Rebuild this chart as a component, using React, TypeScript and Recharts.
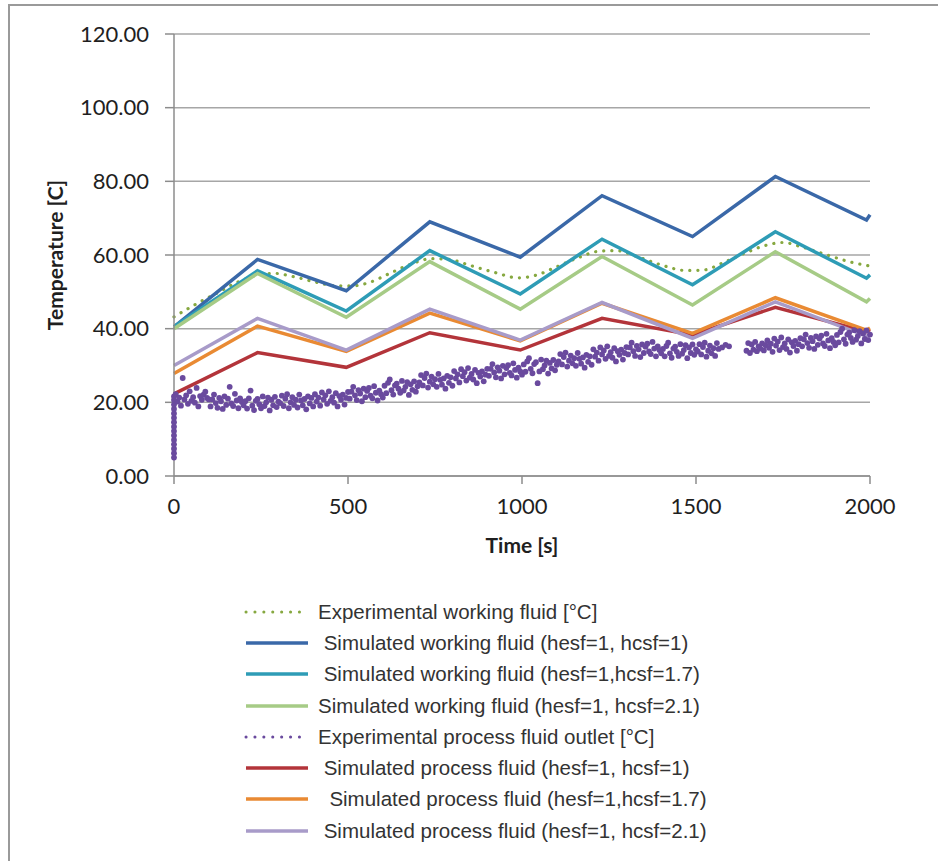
import React from "react";
import { ComposedChart, Line, Scatter, XAxis, YAxis, CartesianGrid } from "recharts";

// simulated runs share the same switching instants
const simTimes = [0, 240, 495, 735, 995, 1230, 1490, 1728, 1990, 2000];
const simWorkH1 = [40.5, 58.8, 50.3, 69.0, 59.4, 76.1, 65.0, 81.3, 69.5, 70.9];
const simWorkH17 = [40.5, 55.7, 44.8, 61.2, 49.4, 64.3, 51.9, 66.3, 53.7, 54.6];
const simWorkH21 = [40.0, 55.0, 43.1, 58.2, 45.3, 59.6, 46.4, 60.9, 47.3, 48.2];
const simProcH1 = [22.3, 33.5, 29.5, 38.9, 34.2, 42.8, 38.3, 45.8, 39.2, 39.8];
const simProcH17 = [27.8, 40.7, 33.8, 44.2, 36.7, 46.9, 38.7, 48.4, 39.6, 40.2];
const simProcH21 = [30.0, 42.8, 34.2, 45.3, 36.9, 47.1, 37.4, 47.3, 38.0, 38.0];

const expWorkTimes = [
  0, 60, 120, 180, 240, 290, 340, 400, 460, 510, 560, 620, 680, 740, 790, 850, 920, 990,
  1040, 1100, 1160, 1220, 1270, 1330, 1400, 1470, 1520, 1580, 1640, 1700, 1750, 1800, 1870, 1940, 2000,
];
const expWorkTemps = [
  43.2, 46.5, 49.5, 52.5, 54.5, 55.0, 54.2, 52.8, 51.7, 51.6, 52.5, 55.0, 57.5, 59.0, 58.8, 57.2, 55.3, 53.8,
  54.5, 56.8, 59.2, 61.0, 61.2, 59.6, 57.3, 55.8, 55.9, 58.0, 60.5, 62.6, 63.4, 62.3, 60.2, 58.2, 57.0,
];

// logger start-up readings at t = 0
const expProcStart = [5.0, 6.2, 7.4, 8.6, 9.8, 11.0, 12.2, 13.4, 14.6, 15.8, 17.0, 18.2, 19.4, 20.6, 21.6];
// process outlet logged every 5 s from t = 5 s (null = no reading)
const expProcStep = 5;
const expProcTemps: (number | null)[] = [
  22.2, 20.2, 21.3, 19.1, 26.6, 20.8, 21.9, 19.6, 23.0, 20.4, 21.4, 19.9, 23.9, 18.9, 21.7, 20.7, 22.1, 22.9, 21.2, 20.8,
  18.9, 20.8, 22.1, 19.8, 18.5, 21.2, 20.3, 18.2, 21.6, 19.3, 21.0, 24.2, 19.7, 19.0, 22.3, 20.5, 18.4, 21.1, 20.1, 19.2,
  20.3, 18.3, 21.1, 23.2, 19.1, 17.9, 20.4, 20.9, 19.5, 18.4, 21.6, 19.0, 20.0, 21.3, 17.8, 20.7, 19.2, 21.5, 18.7, 20.2,
  19.8, 21.8, 19.0, 21.0, 22.2, 18.4, 20.0, 21.4, 19.3, 20.7, 18.6, 22.1, 20.5, 19.2, 20.9, 18.1, 21.6, 19.7, 21.2, 18.9,
  22.2, 20.2, 21.3, 19.1, 22.7, 20.8, 21.9, 19.6, 23.0, 20.4, 21.4, 19.9, 22.5, 18.9, 21.7, 20.7, 22.1, 19.4, 21.2, 22.8,
  21.0, 22.9, 24.2, 21.9, 20.6, 23.3, 22.4, 20.3, 23.7, 21.4, 23.1, 23.9, 21.8, 21.1, 24.4, 22.6, 20.5, 23.2, 22.2, 21.3,
  24.5, 22.5, 25.3, 26.2, 23.3, 22.1, 24.6, 25.1, 23.7, 22.6, 25.8, 23.2, 24.2, 25.5, 22.0, 24.9, 23.4, 25.7, 22.9, 24.4,
  25.4, 27.4, 24.6, 26.6, 27.8, 24.0, 25.6, 27.0, 24.9, 26.3, 24.2, 27.7, 26.1, 24.8, 26.5, 23.7, 27.2, 25.3, 26.8, 24.5,
  28.5, 26.5, 27.6, 25.4, 29.0, 27.1, 28.2, 25.9, 29.3, 26.7, 27.7, 26.2, 28.8, 25.2, 28.0, 27.0, 28.4, 25.7, 27.5, 29.1,
  27.2, 29.1, 30.4, 28.1, 26.8, 29.5, 28.6, 26.5, 29.9, 27.6, 29.3, 30.1, 28.0, 27.3, 30.6, 28.8, 26.7, 29.4, 28.4, 27.5,
  30.3, 28.3, 31.1, 32.0, 29.1, 27.9, 30.4, 30.9, 25.2, 28.4, 31.6, 29.0, 30.0, 31.3, 27.8, 30.7, 29.2, 31.5, 28.7, 30.2,
  31.1, 33.1, 30.3, 32.3, 33.5, 29.7, 31.3, 32.7, 30.6, 32.0, 29.9, 33.4, 31.8, 30.5, 32.2, 29.4, 32.9, 31.0, 32.5, 30.2,
  34.4, 32.4, 33.5, 31.3, 34.9, 33.0, 34.1, 31.8, 35.2, 32.6, 33.6, 32.1, 34.7, 31.1, 33.9, 32.9, 34.3, 31.6, 33.4, 35.0,
  33.0, 34.9, 36.2, 33.9, 32.6, 35.3, 34.4, 32.3, 35.7, 33.4, 35.1, 35.9, 33.8, 33.1, 36.4, 34.6, 32.5, 35.2, 34.2, 33.3,
  34.5, 32.5, 35.3, 36.2, 33.3, 32.1, 34.6, 35.1, 33.7, 32.6, 35.8, 33.2, 34.2, 35.5, 32.0, 34.9, 33.4, 35.7, 32.9, 34.4,
  33.8, 35.8, 33.0, 35.0, 36.2, 32.4, 34.0, 35.4, 33.3, 34.7, 32.6, 36.1, 34.5, null, 34.9, null, 35.6, null, 35.2, null,
  null, null, null, null, null, null, null, null, 34.0, 36.1, 33.4, 35.7, 34.3, 36.4, 33.9, 35.2, 34.6, 36.0, 34.1, 35.5,
  36.8, 34.8, 35.9, 33.7, 37.3, 35.4, 36.5, 34.2, 37.6, 35.0, 36.0, 34.5, 37.1, 33.5, 36.3, 35.3, 36.7, 34.0, 35.8, 37.4,
  35.2, 37.1, 38.4, 36.1, 34.8, 37.5, 36.6, 34.5, 37.9, 35.6, 37.3, 38.1, 36.0, 35.3, 38.6, 36.8, 34.7, 37.4, 36.4, 35.5,
  38.3, 36.3, 39.1, 40.0, 37.1, 35.9, 38.4, 38.9, 37.5, 36.4, 39.6, 37.0, 38.0, 39.3, 36.0, 38.7, 37.2, 39.5, 36.9, 38.4,
];

const xTicks = [0, 500, 1000, 1500, 2000];
const yTicks = [0, 20, 40, 60, 80, 100, 120];

const c = {
  expWork: "#86A840",
  work1: "#3A68A8",
  work17: "#2E9CB6",
  work21: "#A6CB86",
  expProc: "#6A4A9E",
  proc1: "#B3343A",
  proc17: "#E98A33",
  proc21: "#A89BC9",
  grid: "#A6A6A6",
  axis: "#8C8C8C",
  text: "#1f1f1f",
};

const legendItems = [
  { name: "Experimental working fluid [\u00b0C]", color: c.expWork, dotted: true },
  { name: " Simulated working fluid (hesf=1, hcsf=1)", color: c.work1 },
  { name: " Simulated working fluid (hesf=1,hcsf=1.7)", color: c.work17 },
  { name: "Simulated working fluid (hesf=1, hcsf=2.1)", color: c.work21 },
  { name: "Experimental process fluid outlet [\u00b0C]", color: c.expProc, dotted: true },
  { name: " Simulated process fluid (hesf=1, hcsf=1)", color: c.proc1 },
  { name: "  Simulated process fluid (hesf=1,hcsf=1.7)", color: c.proc17 },
  { name: " Simulated process fluid (hesf=1, hcsf=2.1)", color: c.proc21 },
];

const toSeries = (times: number[], vals: number[]) => times.map((t, i) => ({ t, v: vals[i] }));

const expProcData = [
  ...expProcStart.map((v) => ({ t: 0, v })),
  ...expProcTemps
    .map((v, i) => ({ t: (i + 1) * expProcStep, v }))
    .filter((p) => p.v !== null),
];

const tickFont = { fill: c.text, fontSize: 22, fontFamily: "Lato, sans-serif" };
const titleFont = { fill: c.text, fontSize: 21, fontWeight: 700, fontFamily: "Lato, sans-serif" };

function Legend() {
  return (
    <div style={{ position: "absolute", left: 230, top: 590, fontFamily: "'Liberation Sans', Arial, sans-serif", fontSize: 20.5, color: "#333" }}>
      {legendItems.map((it) => (
        <div key={it.name} style={{ display: "flex", alignItems: "center", height: 31.3 }}>
          <svg width={70} height={10} style={{ flex: "none" }}>
            <line
              x1={6}
              y1={5}
              x2={68}
              y2={5}
              stroke={it.color}
              strokeWidth={it.dotted ? 3 : 3.5}
              strokeDasharray={it.dotted ? "0.1 8.8" : undefined}
              strokeLinecap={it.dotted ? "round" : "butt"}
            />
          </svg>
          <span style={{ whiteSpace: "pre", marginLeft: 8 }}>{it.name}</span>
        </div>
      ))}
    </div>
  );
}

export default function App() {
  return (
    <div
      style={{
        position: "absolute",
        left: 8,
        top: 4,
        width: 928,
        height: 855,
        borderTop: "2px solid #9a9a9a",
        borderLeft: "2px solid #9a9a9a",
        background: "#fff",
      }}
    >
      <ComposedChart width={928} height={560} margin={{ top: 28, right: 68, bottom: 10, left: 44 }}>
        <CartesianGrid vertical={false} stroke={c.grid} strokeWidth={1.5} />
        <XAxis
          dataKey="t"
          type="number"
          domain={[0, 2000]}
          ticks={xTicks}
          height={80}
          tick={tickFont}
          tickSize={8}
          tickMargin={14}
          stroke={c.axis}
          strokeWidth={1.5}
          label={{ value: "Time [s]", position: "insideBottom", offset: 3, style: titleFont }}
        />
        <YAxis
          dataKey="v"
          type="number"
          domain={[0, 120]}
          ticks={yTicks}
          width={120}
          tick={tickFont}
          tickSize={9}
          tickMargin={16}
          tickFormatter={(v: number) => v.toFixed(2)}
          stroke={c.axis}
          strokeWidth={1.5}
          label={{
            value: "Temperature [C]",
            angle: -90,
            position: "insideLeft",
            offset: 2,
            style: { ...titleFont, textAnchor: "middle" },
          }}
        />
        <Line
          data={toSeries(expWorkTimes, expWorkTemps)}
          dataKey="v"
          type="monotone"
          stroke={c.expWork}
          strokeWidth={3.2}
          strokeDasharray="0.1 8"
          strokeLinecap="round"
          dot={false}
          isAnimationActive={false}
        />
        <Line data={toSeries(simTimes, simWorkH1)} dataKey="v" type="linear" stroke={c.work1} strokeWidth={3.5} dot={false} isAnimationActive={false} />
        <Line data={toSeries(simTimes, simWorkH17)} dataKey="v" type="linear" stroke={c.work17} strokeWidth={3.5} dot={false} isAnimationActive={false} />
        <Line data={toSeries(simTimes, simWorkH21)} dataKey="v" type="linear" stroke={c.work21} strokeWidth={3.5} dot={false} isAnimationActive={false} />
        <Scatter
          data={expProcData}
          dataKey="v"
          fill={c.expProc}
          isAnimationActive={false}
          shape={(p: any) => <circle cx={p.cx} cy={p.cy} r={2.9} fill={c.expProc} />}
        />
        <Line data={toSeries(simTimes, simProcH1)} dataKey="v" type="linear" stroke={c.proc1} strokeWidth={3.5} dot={false} isAnimationActive={false} />
        <Line data={toSeries(simTimes, simProcH17)} dataKey="v" type="linear" stroke={c.proc17} strokeWidth={3.5} dot={false} isAnimationActive={false} />
        <Line data={toSeries(simTimes, simProcH21)} dataKey="v" type="linear" stroke={c.proc21} strokeWidth={3.5} dot={false} isAnimationActive={false} />
      </ComposedChart>
      <Legend />
    </div>
  );
}
